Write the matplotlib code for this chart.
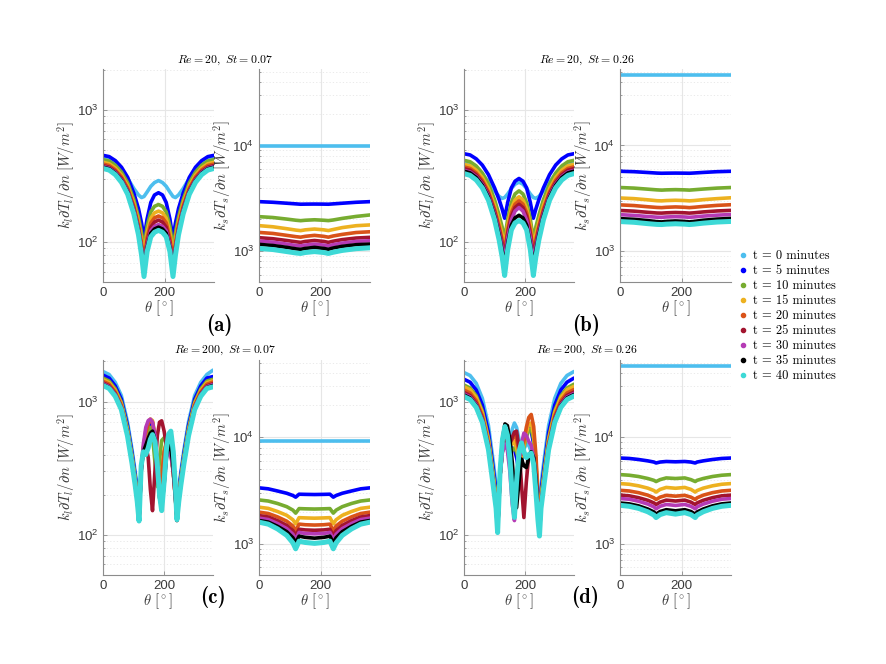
import os

import matplotlib
matplotlib.use("Agg")
import matplotlib.pyplot as plt
import numpy as np
from matplotlib.font_manager import FontProperties
from matplotlib.lines import Line2D
from matplotlib.ticker import LogLocator, NullFormatter

plt.rcParams["mathtext.fontset"] = "cm"
plt.rcParams["font.family"] = ["Liberation Sans", "DejaVu Sans"]

ttf_dir = os.path.join(matplotlib.get_data_path(), "fonts", "ttf")
cm_roman = FontProperties(fname=os.path.join(ttf_dir, "cmr10.ttf"))
cm_bold = FontProperties(fname=os.path.join(ttf_dir, "cmb10.ttf"))

# ---------------------------------------------------------------- data
times = [0, 5, 10, 15, 20, 25, 30, 35, 40]
colors = ["#4DBEEE", "#0000FF", "#77AC30", "#EDB120", "#D95319",
          "#A2142F", "#B53BB5", "#000000", "#3DD9D6"]

titles = [r"$Re = 20,\ St = 0.07$", r"$Re = 20,\ St = 0.26$",
          r"$Re = 200,\ St = 0.07$", r"$Re = 200,\ St = 0.26$"]
panel_tags = ["(a)", "(b)", "(c)", "(d)"]

# Re = 20 -- liquid side
theta_top_l = [0, 20, 40, 60, 80, 100, 115, 125, 133, 143, 155, 167, 180,
               193, 205, 217, 227, 235, 245, 260, 280, 300, 320, 340, 360]
a_left = [
    [445, 435, 405, 360, 305, 255, 228, 218, 222, 240, 265, 283, 293, 283, 265, 240, 222, 218, 228, 255, 305, 360, 405, 435, 445],
    [455, 445, 415, 370, 310, 235, 180, 140, 106, 150, 200, 228, 237, 228, 200, 150, 106, 140, 180, 235, 310, 370, 415, 445, 455],
    [422, 412, 383, 340, 282, 210, 155, 118, 90, 132, 170, 187, 193, 187, 170, 132, 90, 118, 155, 210, 282, 340, 383, 412, 422],
    [403, 393, 365, 323, 267, 197, 143, 106, 80, 118, 152, 167, 172, 167, 152, 118, 80, 106, 143, 197, 267, 323, 365, 393, 403],
    [391, 381, 353, 312, 257, 188, 135, 98, 72, 108, 140, 153, 158, 153, 140, 108, 72, 98, 135, 188, 257, 312, 353, 381, 391],
    [380, 370, 343, 302, 248, 180, 128, 92, 65, 100, 130, 142, 147, 142, 130, 100, 65, 92, 128, 180, 248, 302, 343, 370, 380],
    [374, 364, 337, 296, 243, 175, 124, 89, 62, 95, 122, 132, 136, 132, 122, 95, 62, 89, 124, 175, 243, 296, 337, 364, 374],
    [370, 360, 333, 292, 239, 171, 120, 86, 60, 91, 117, 126, 130, 126, 117, 91, 60, 86, 120, 171, 239, 292, 333, 360, 370],
    [362, 352, 325, 284, 231, 164, 114, 80, 55, 85, 110, 119, 123, 119, 110, 85, 55, 80, 114, 164, 231, 284, 325, 352, 362],
]
b_left = [
    [400, 392, 368, 330, 285, 245, 222, 215, 218, 232, 255, 275, 285, 275, 255, 232, 218, 215, 222, 245, 285, 330, 368, 392, 400],
    [468, 458, 428, 384, 325, 258, 210, 178, 152, 200, 258, 290, 304, 290, 258, 200, 152, 178, 210, 258, 325, 384, 428, 458, 468],
    [417, 407, 378, 334, 277, 210, 160, 130, 105, 150, 200, 232, 245, 232, 200, 150, 105, 130, 160, 210, 277, 334, 378, 407, 417],
    [389, 379, 351, 309, 254, 190, 142, 114, 95, 135, 180, 209, 221, 209, 180, 135, 95, 114, 142, 190, 254, 309, 351, 379, 389],
    [372, 362, 335, 294, 241, 178, 132, 104, 85, 124, 167, 194, 206, 194, 167, 124, 85, 104, 132, 178, 241, 294, 335, 362, 372],
    [361, 351, 324, 284, 232, 170, 125, 97, 78, 116, 157, 183, 194, 183, 157, 116, 78, 97, 125, 170, 232, 284, 324, 351, 361],
    [350, 340, 314, 275, 224, 163, 119, 91, 72, 108, 147, 172, 183, 172, 147, 108, 72, 91, 119, 163, 224, 275, 314, 340, 350],
    [345, 335, 309, 270, 219, 158, 114, 86, 65, 98, 135, 153, 160, 153, 135, 98, 65, 86, 114, 158, 219, 270, 309, 335, 345],
    [331, 321, 296, 258, 208, 148, 104, 77, 56, 88, 124, 140, 146, 140, 124, 88, 56, 77, 104, 148, 208, 258, 296, 321, 331],
]

# Re = 20 -- solid side
theta_top_r = [0, 45, 90, 120, 135, 150, 180, 210, 225, 240, 270, 315, 360]
a_right = [
    [9800] * 13,
    [2940, 2900, 2840, 2800, 2780, 2785, 2790, 2785, 2780, 2800, 2840, 2900, 2940],
    [2120, 2080, 2010, 1960, 1942, 1960, 1980, 1960, 1945, 1970, 2040, 2130, 2200],
    [1742, 1700, 1630, 1580, 1563, 1590, 1618, 1590, 1565, 1600, 1670, 1740, 1770],
    [1503, 1470, 1410, 1370, 1355, 1380, 1410, 1380, 1355, 1390, 1440, 1500, 1525],
    [1340, 1310, 1260, 1225, 1210, 1235, 1260, 1235, 1210, 1240, 1285, 1330, 1350],
    [1244, 1215, 1165, 1130, 1120, 1140, 1165, 1140, 1120, 1150, 1190, 1235, 1253],
    [1158, 1130, 1085, 1050, 1040, 1060, 1085, 1060, 1040, 1070, 1110, 1150, 1165],
    [1061, 1035, 990, 960, 950, 970, 990, 970, 950, 975, 1015, 1055, 1075],
]
b_right = [
    [47000] * 13,
    [5700, 5650, 5550, 5480, 5460, 5470, 5480, 5470, 5460, 5490, 5560, 5650, 5700],
    [4000, 3950, 3860, 3800, 3780, 3800, 3820, 3800, 3780, 3810, 3870, 3950, 4000],
    [3185, 3140, 3060, 3000, 2990, 3010, 3030, 3010, 2990, 3010, 3070, 3140, 3200],
    [2740, 2700, 2630, 2590, 2580, 2600, 2620, 2600, 2580, 2600, 2650, 2710, 2750],
    [2425, 2390, 2330, 2295, 2290, 2305, 2320, 2305, 2290, 2305, 2350, 2400, 2430],
    [2213, 2180, 2125, 2095, 2090, 2105, 2120, 2105, 2090, 2105, 2145, 2190, 2220],
    [2030, 2000, 1945, 1900, 1890, 1910, 1930, 1910, 1890, 1910, 1960, 2010, 2040],
    [1905, 1875, 1820, 1790, 1785, 1800, 1815, 1800, 1785, 1800, 1840, 1885, 1910],
]

# Re = 200 -- liquid side
theta_c_l = [0, 20, 40, 60, 80, 95, 105, 112, 118, 125, 132, 140, 148, 155, 162, 170,
             178, 185, 192, 200, 208, 215, 222, 230, 237, 242, 248, 255, 265, 280,
             300, 320, 340, 360]
c_left = [
    [1680, 1596, 1394, 1109, 706, 437, 302, 227, 135,
     310, 440, 560, 640, 660, 600, 460, 340, 280, 300, 400, 470, 470, 420, 300, 190,
     135, 227, 302, 437, 706, 1109, 1394, 1596, 1720],
    [1580, 1501, 1311, 1043, 664, 411, 284, 213, 133,
     310, 440, 580, 680, 700, 640, 480, 330, 215, 260, 400, 490, 480, 430, 300, 190,
     133, 213, 284, 411, 664, 1043, 1311, 1501, 1540],
    [1500, 1425, 1245, 990, 630, 390, 270, 203, 132,
     300, 430, 520, 600, 640, 560, 350, 230, 360, 510, 535, 480, 440, 420, 300, 190,
     132, 203, 270, 390, 630, 990, 1245, 1425, 1470],
    [1460, 1387, 1212, 964, 613, 380, 263, 197, 131,
     320, 450, 600, 700, 740, 720, 560, 330, 230, 280, 430, 500, 480, 420, 300, 190,
     131, 197, 263, 380, 613, 964, 1212, 1387, 1430],
    [1420, 1349, 1179, 937, 596, 369, 256, 192, 130,
     310, 440, 580, 680, 720, 700, 540, 320, 220, 270, 420, 490, 470, 410, 290, 185,
     130, 192, 256, 369, 596, 937, 1179, 1349, 1400],
    [1380, 1311, 1145, 911, 580, 359, 248, 186, 130,
     300, 430, 470, 380, 220, 152, 300, 560, 700, 717, 600, 460, 480, 450, 330, 200,
     133, 186, 248, 359, 580, 911, 1145, 1311, 1360],
    [1360, 1292, 1129, 898, 571, 354, 245, 184, 129,
     300, 480, 640, 720, 738, 700, 560, 350, 200, 157, 250, 380, 430, 400, 300, 190,
     131, 184, 245, 354, 571, 898, 1129, 1292, 1340],
    [1340, 1273, 1112, 884, 563, 348, 241, 181, 128,
     320, 420, 470, 530, 580, 600, 520, 330, 190, 160, 240, 400, 470, 450, 320, 200,
     128, 181, 241, 348, 563, 884, 1112, 1273, 1320],
    [1320, 1254, 1096, 871, 554, 343, 238, 178, 127,
     330, 420, 400, 450, 520, 565, 500, 330, 200, 152, 250, 450, 570, 600, 420, 230,
     130, 178, 238, 343, 554, 871, 1096, 1254, 1290],
]

theta_d_l = [0, 20, 40, 60, 80, 95, 105, 110, 118, 126, 134, 142, 150, 158, 165, 172,
             180, 188, 196, 204, 212, 220, 228, 236, 242, 247, 252, 262, 277, 297,
             317, 337, 360]
d_left = [
    [1650, 1568, 1370, 1056, 660, 363, 239, 115,
     280, 450, 560, 560, 500, 620, 690, 640, 520, 430, 440, 480, 470, 420, 330, 220, 150,
     100, 239, 363, 660, 1056, 1370, 1568, 1680],
    [1470, 1397, 1220, 941, 588, 323, 213, 112,
     280, 440, 540, 540, 470, 440, 440, 380, 300, 350, 480, 600, 640, 600, 480, 310, 170,
     100, 213, 323, 588, 941, 1220, 1397, 1500],
    [1330, 1264, 1104, 851, 532, 293, 193, 110,
     280, 440, 540, 520, 440, 430, 450, 420, 360, 370, 450, 540, 610, 620, 520, 330, 170,
     100, 193, 293, 532, 851, 1104, 1264, 1350],
    [1290, 1226, 1071, 826, 516, 284, 187, 108,
     280, 440, 550, 540, 470, 480, 500, 450, 380, 380, 470, 580, 680, 690, 560, 340, 170,
     100, 187, 284, 516, 826, 1071, 1226, 1300],
    [1220, 1159, 1013, 781, 488, 268, 177, 107,
     280, 440, 560, 560, 500, 520, 560, 520, 420, 400, 500, 640, 760, 800, 650, 380, 180,
     100, 177, 268, 488, 781, 1013, 1159, 1230],
    [1170, 1112, 971, 749, 468, 257, 170, 106,
     280, 430, 520, 520, 480, 540, 590, 600, 450, 240, 135, 250, 400, 420, 380, 260, 150,
     100, 170, 257, 468, 749, 971, 1112, 1180],
    [1140, 1083, 946, 730, 456, 251, 165, 105,
     280, 420, 480, 430, 300, 170, 128, 200, 360, 480, 580, 560, 500, 470, 380, 250, 150,
     100, 165, 251, 456, 730, 946, 1083, 1150],
    [1120, 1064, 930, 717, 448, 246, 162, 105,
     300, 520, 680, 660, 520, 350, 220, 160, 250, 370, 330, 320, 380, 420, 380, 250, 150,
     99, 162, 246, 448, 717, 930, 1064, 1130],
    [1090, 1036, 905, 698, 436, 240, 158, 104,
     300, 520, 650, 560, 380, 200, 135, 250, 420, 490, 420, 380, 400, 410, 340, 200, 130,
     98, 158, 240, 436, 698, 905, 1036, 1100],
]

# Re = 200 -- solid side
theta_c_r = [0, 30, 60, 90, 110, 119, 130, 150, 180, 210, 230, 241, 250, 270, 300, 330, 360]
c_right = [
    [9300] * 17,
    [3350, 3280, 3130, 2980, 2840, 2740, 2920, 2910, 2900, 2910, 2920, 2740, 2840, 2980, 3130, 3280, 3350],
    [2580, 2520, 2390, 2230, 2070, 1940, 2140, 2130, 2120, 2130, 2140, 1940, 2070, 2230, 2390, 2520, 2580],
    [2207, 2150, 2010, 1850, 1680, 1540, 1760, 1750, 1740, 1750, 1760, 1540, 1680, 1850, 2010, 2150, 2207],
    [1983, 1925, 1790, 1630, 1470, 1330, 1530, 1510, 1500, 1510, 1530, 1330, 1470, 1630, 1790, 1925, 1983],
    [1841, 1785, 1650, 1490, 1330, 1196, 1370, 1350, 1340, 1350, 1370, 1196, 1330, 1490, 1650, 1785, 1841],
    [1742, 1690, 1550, 1390, 1230, 1097, 1280, 1250, 1240, 1250, 1280, 1097, 1230, 1390, 1550, 1690, 1742],
    [1654, 1600, 1460, 1300, 1140, 1022, 1180, 1150, 1130, 1150, 1180, 1022, 1140, 1300, 1460, 1600, 1654],
    [1597, 1530, 1380, 1200, 1020, 898, 1060, 1030, 1010, 1030, 1060, 898, 1020, 1200, 1380, 1530, 1597],
]

theta_d_r = [0, 30, 60, 90, 110, 117, 130, 150, 180, 210, 230, 244, 250, 270, 300, 330, 360]
d_right = [
    [47000] * 17,
    [6380, 6320, 6180, 6000, 5850, 5730, 5850, 5920, 5880, 5920, 5850, 5730, 5850, 6000, 6180, 6320, 6380],
    [4460, 4400, 4280, 4100, 3940, 3840, 4000, 4150, 4100, 4150, 4000, 3840, 3940, 4100, 4280, 4400, 4460],
    [3673, 3620, 3500, 3330, 3160, 3060, 3240, 3380, 3320, 3380, 3240, 3060, 3160, 3330, 3500, 3620, 3673],
    [3177, 3130, 3020, 2860, 2700, 2605, 2740, 2850, 2800, 2850, 2740, 2605, 2700, 2860, 3020, 3130, 3177],
    [2864, 2820, 2710, 2560, 2420, 2335, 2460, 2570, 2520, 2570, 2460, 2335, 2420, 2560, 2710, 2820, 2864],
    [2660, 2620, 2510, 2360, 2220, 2130, 2250, 2340, 2290, 2340, 2250, 2130, 2220, 2360, 2510, 2620, 2660],
    [2415, 2370, 2270, 2120, 1990, 1898, 2010, 2090, 2040, 2090, 2010, 1898, 1990, 2120, 2270, 2370, 2415],
    [2296, 2250, 2150, 2000, 1860, 1763, 1880, 1960, 1900, 1960, 1880, 1763, 1860, 2000, 2150, 2250, 2296],
]

# ---------------------------------------------------------------- layout
W, H = 886, 664
fig = plt.figure(figsize=(W / 100, H / 100), dpi=100)


def px_axes(x0, x1, y0, y1):
    return fig.add_axes([x0 / W, 1 - y1 / H, (x1 - x0) / W, (y1 - y0) / H])


def style(ax, ylim, ylabel):
    ax.set_yscale("log")
    ax.set_xlim(0, 360)
    ax.set_ylim(*ylim)
    ax.set_xticks([0, 200])
    ax.yaxis.set_minor_locator(LogLocator(subs=np.arange(2, 10)))
    ax.yaxis.set_minor_formatter(NullFormatter())
    ax.grid(True, which="major", color="#e6e6e6", lw=0.8)
    ax.grid(True, which="minor", axis="y", color="#e6e6e6", ls=(0, (1.5, 2.5)), lw=0.6)
    ax.set_axisbelow(True)
    for s in ("top", "right"):
        ax.spines[s].set_visible(False)
    for s in ("left", "bottom"):
        ax.spines[s].set_color("#8c8c8c")
        ax.spines[s].set_linewidth(0.8)
    ax.tick_params(which="both", direction="in", colors="#8c8c8c",
                   labelcolor="#3a3a3a", labelsize=9.5, length=3, width=0.6)
    ax.tick_params(which="minor", length=1.5)
    ax.set_xlabel(r"$\theta\ [^\circ]$", fontsize=10.5, color="#3a3a3a", labelpad=0)
    ax.set_ylabel(ylabel, fontsize=10.5, color="#3a3a3a")
    ax.yaxis.set_label_coords(-0.235, 0.5)


def draw(ax, theta, series):
    for i, (vals, col) in enumerate(zip(series, colors)):
        ax.plot(theta, vals, color=col, lw=3.6 if i == 8 else 2.6,
                solid_capstyle="round", solid_joinstyle="round")


lab_l = r"$k_l\partial T_l/\partial n\ [W/m^2]$"
lab_s = r"$k_s\partial T_s/\partial n\ [W/m^2]$"

panels = [
    (103, 214, 259, 370, 69, 282, theta_top_l, a_left, theta_top_r, a_right),
    (464, 574, 620, 731, 69, 282, theta_top_l, b_left, theta_top_r, b_right),
    (103, 213, 259, 370, 360, 575, theta_c_l, c_left, theta_c_r, c_right),
    (464, 574, 620, 731, 360, 575, theta_d_l, d_left, theta_d_r, d_right),
]
title_pos = [(225, 60), (587, 60), (225, 350), (587, 350)]
tag_pos = [(219, 325), (586, 325), (213, 597), (585, 597)]

for k, (lx0, lx1, rx0, rx1, y0, y1, th_l, left, th_r, right) in enumerate(panels):
    axl = px_axes(lx0, lx1, y0, y1)
    draw(axl, th_l, left)
    style(axl, (50, 2050), lab_l)

    axr = px_axes(rx0, rx1, y0, y1)
    draw(axr, th_r, right)
    style(axr, (510, 53000), lab_s)

    tx, ty = title_pos[k]
    fig.text(tx / W, 1 - ty / H, titles[k], ha="center", va="center", fontsize=8.5)
    gx, gy = tag_pos[k]
    fig.text(gx / W, 1 - gy / H, panel_tags[k], ha="center", va="center",
             fontproperties=cm_bold, fontsize=15)

handles = [Line2D([], [], marker=".", ls="", color=c, markersize=6) for c in colors]
labels = ["t = %d minutes" % t for t in times]
leg_font = cm_roman.copy()
leg_font.set_size(9)
fig.legend(handles, labels, loc="upper left", bbox_to_anchor=(739 / W, 1 - 250 / H),
           frameon=False, prop=leg_font, handlelength=0.6, handletextpad=0.5,
           labelspacing=0.23, borderaxespad=0, borderpad=0)

fig.savefig("out.png", dpi=100)
